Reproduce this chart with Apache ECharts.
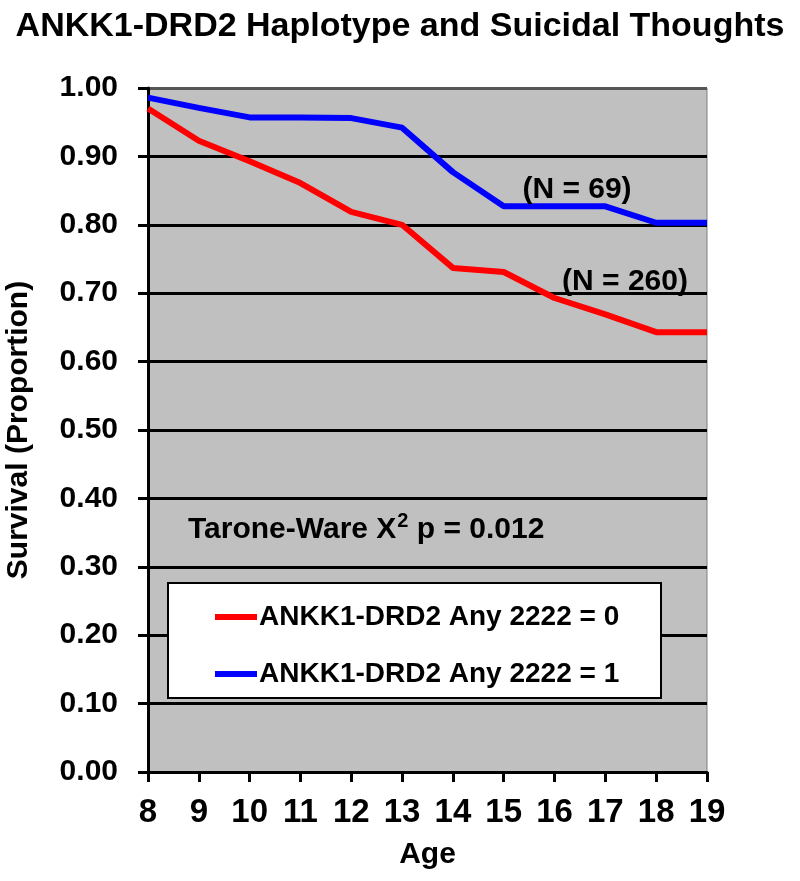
<!DOCTYPE html>
<html>
<head>
<meta charset="utf-8">
<script src="https://cdn.jsdelivr.net/npm/echarts@6/dist/echarts.min.js"></script>
<style>html,body{margin:0;padding:0;background:#fff}#c{width:800px;height:881px}</style>
</head>
<body>
<div id="c"></div>
<script>
var ages = [8, 9, 10, 11, 12, 13, 14, 15, 16, 17, 18, 19];
var anyZero = [0.970, 0.923, 0.893, 0.861, 0.819, 0.800, 0.737, 0.731, 0.693, 0.669, 0.643, 0.643];
var anyOne = [0.986, 0.971, 0.957, 0.957, 0.956, 0.942, 0.877, 0.827, 0.827, 0.827, 0.803, 0.803];
var seriesNames = ['ANKK1-DRD2 Any 2222 = 0', 'ANKK1-DRD2 Any 2222 = 1'];
var yTicks = ['0.00','0.10','0.20','0.30','0.40','0.50','0.60','0.70','0.80','0.90','1.00'];
var titleText = 'ANKK1-DRD2 Haplotype and Suicidal Thoughts';
var nLabels = ['(N = 260)', '(N = 69)'];
var testParts = ['Tarone-Ware X', '2', ' p = 0.012'];

var FONT = '"Liberation Sans", Arial, sans-serif';
function pairs(xs, ys) { return xs.map(function (x, i) { return [x, ys[i]]; }); }

var chart = echarts.init(document.getElementById('c'), null, { renderer: 'canvas' });
var splitColors = [];
for (var i = 0; i < 10; i++) splitColors.push('#000');
splitColors.push('#555');

chart.setOption({
  animation: false,
  backgroundColor: '#fff',
  title: {
    text: titleText, left: 'center', top: 5,
    textStyle: { fontFamily: FONT, fontSize: 34, fontWeight: 'bold', color: '#000' }
  },
  grid: {
    left: 148, right: 93, top: 88, bottom: 109,
    outerBoundsMode: 'none', containLabel: false,
    show: true, backgroundColor: '#c0c0c0', borderColor: '#808080', borderWidth: 1
  },
  xAxis: {
    type: 'value', min: 8, max: 19, interval: 1,
    name: 'Age', nameLocation: 'middle', nameGap: 68,
    nameTextStyle: { fontFamily: FONT, fontSize: 30, fontWeight: 'bold', color: '#000' },
    axisLine: { lineStyle: { color: '#000', width: 3 } },
    axisTick: { show: true, inside: false, length: 10, lineStyle: { color: '#000', width: 3 } },
    axisLabel: { fontFamily: FONT, fontSize: 33, fontWeight: 'bold', color: '#000', margin: 24 },
    splitLine: { show: false }
  },
  yAxis: {
    type: 'value', min: 0, max: 1, interval: 0.1,
    name: 'Survival (Proportion)', nameLocation: 'middle', nameGap: 114,
    nameTextStyle: { fontFamily: FONT, fontSize: 30, fontWeight: 'bold', color: '#000' },
    axisLine: { show: true, lineStyle: { color: '#000', width: 3 } },
    axisTick: { show: true, inside: false, length: 10, lineStyle: { color: '#000', width: 3 } },
    axisLabel: {
      fontFamily: FONT, fontSize: 30, fontWeight: 'bold', color: '#000', margin: 30,
      formatter: function (v) { return yTicks[Math.round(v * 10)]; }
    },
    splitLine: { show: true, lineStyle: { color: splitColors, width: 3 } }
  },
  legend: {
    orient: 'vertical', left: 210, top: 598, z: 20,
    icon: 'rect', itemWidth: 42, itemHeight: 6, itemGap: 29,
    data: seriesNames,
    textStyle: { fontFamily: FONT, fontSize: 28, fontWeight: 'bold', color: '#000', padding: [0, 0, 0, -3] }
  },
  graphic: [
    { type: 'rect', z: 10, shape: { x: 168, y: 583, width: 493, height: 115 },
      style: { fill: '#fff', stroke: '#000', lineWidth: 2 } },
    { type: 'text', z: 10, x: 188, y: 528,
      style: {
        text: '{t|' + testParts[0] + '}{s|' + testParts[1] + '}{t|' + testParts[2] + '}',
        verticalAlign: 'middle', align: 'left',
        rich: {
          t: { fontFamily: FONT, fontSize: 30, fontWeight: 'bold', fill: '#000', color: '#000', lineHeight: 34, verticalAlign: 'bottom' },
          s: { fontFamily: FONT, fontSize: 20, fontWeight: 'bold', fill: '#000', color: '#000', lineHeight: 34, verticalAlign: 'top', padding: [0, 0, 10, 1] }
        }
      } },
    { type: 'text', z: 10, x: 577, y: 190,
      style: { text: nLabels[1], fontFamily: FONT, fontSize: 30, fontWeight: 'bold', fill: '#000', verticalAlign: 'middle', align: 'center' } },
    { type: 'text', z: 10, x: 625, y: 282,
      style: { text: nLabels[0], fontFamily: FONT, fontSize: 30, fontWeight: 'bold', fill: '#000', verticalAlign: 'middle', align: 'center' } }
  ],
  series: [
    { name: seriesNames[1], type: 'line', data: pairs(ages, anyOne), showSymbol: false, symbol: 'none',
      lineStyle: { color: '#0000ff', width: 6 }, itemStyle: { color: '#0000ff' }, z: 3 },
    { name: seriesNames[0], type: 'line', data: pairs(ages, anyZero), showSymbol: false, symbol: 'none',
      lineStyle: { color: '#ff0000', width: 6 }, itemStyle: { color: '#ff0000' }, z: 4 }
  ]
});
</script>
</body>
</html>
